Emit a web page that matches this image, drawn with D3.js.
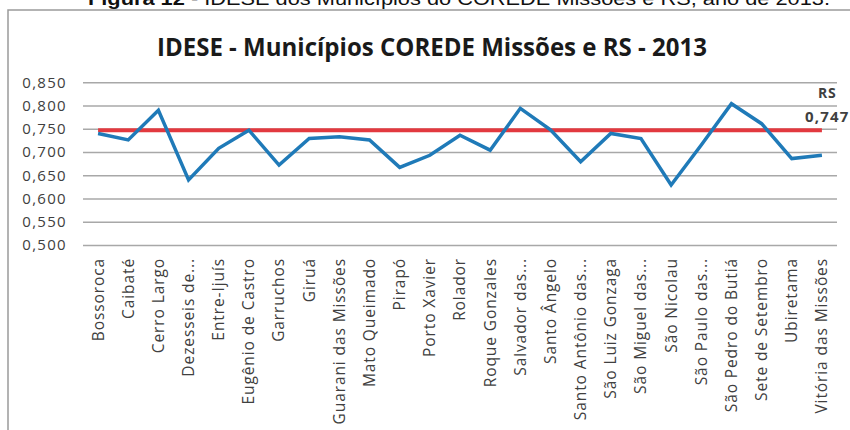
<!DOCTYPE html>
<html>
<head>
<meta charset="utf-8">
<script src="https://cdn.jsdelivr.net/npm/d3@7"></script>
<style>
  body { margin: 0; background: #fff; }
  svg { display: block; }
</style>
</head>
<body>
<svg width="850" height="430"></svg>
<script>
'use strict';

// Municipalities (x categories)
var municipios = [
  'Bossoroca', 'Caibaté', 'Cerro Largo', 'Dezesseis de...', 'Entre-Ijuís',
  'Eugênio de Castro', 'Garruchos', 'Giruá', 'Guarani das Missões', 'Mato Queimado',
  'Pirapó', 'Porto Xavier', 'Rolador', 'Roque Gonzales', 'Salvador das...',
  'Santo Ângelo', 'Santo Antônio das...', 'São Luiz Gonzaga', 'São Miguel das...', 'São Nicolau',
  'São Paulo das...', 'São Pedro do Butiá', 'Sete de Setembro', 'Ubiretama', 'Vitória das Missões'
];
// IDESE 2013 values
var idese = [
  0.740, 0.726, 0.790, 0.640, 0.708,
  0.747, 0.672, 0.729, 0.733, 0.726,
  0.667, 0.693, 0.736, 0.704, 0.794,
  0.748, 0.679, 0.740, 0.729, 0.629,
  0.715, 0.804, 0.761, 0.686, 0.693
];
var rsValue = 0.747;
var yTicks = [0.500, 0.550, 0.600, 0.650, 0.700, 0.750, 0.800, 0.850];

var svg = d3.select('svg');

// pt-BR number format (comma decimal)
var ptBR = d3.formatLocale({ decimal: ',', thousands: '.', grouping: [3], currency: ['R$', ''] });
var fmt = ptBR.format('.3f');

// plot area
var plotLeft = 83, plotRight = 837, plotTop = 82.3, plotBottom = 245;

var x = d3.scaleBand().domain(municipios).range([plotLeft, plotRight]);
var y = d3.scaleLinear().domain([0.5, 0.85]).range([plotBottom, plotTop]);
var cx = function(d) { return x(d) + x.bandwidth() / 2; };

// caption above chart (cut off at the top, like in the source scan)
var cap = svg.append('text')
  .attr('x', 88).attr('y', 4.5)
  .attr('textLength', 742).attr('lengthAdjust', 'spacingAndGlyphs')
  .style('font-family', 'Liberation Sans, Arial, sans-serif')
  .style('font-size', '18px').style('fill', '#111');
cap.append('tspan').style('font-weight', 'bold').text('Figura 12');
cap.append('tspan').text(' - IDESE dos Municípios do COREDE Missões e RS, ano de 2013.');

// chart frame
svg.append('rect')
  .attr('x', 8).attr('y', 10).attr('width', 860).attr('height', 440)
  .style('fill', 'none').style('stroke', '#9a9a9a').style('stroke-width', 1.5);

// title
svg.append('text')
  .attr('x', 157).attr('y', 56)
  .attr('textLength', 550).attr('lengthAdjust', 'spacingAndGlyphs')
  .style('font-family', 'Open Sans, sans-serif')
  .style('font-weight', 'bold').style('font-size', '25px').style('fill', '#1a1a1a')
  .text('IDESE - Municípios COREDE Missões e RS - 2013');

// gridlines + y axis
var yAxis = svg.append('g')
  .attr('transform', 'translate(' + plotLeft + ',0)')
  .call(d3.axisLeft(y).tickValues(yTicks).tickFormat(fmt).tickSize(-(plotRight - plotLeft)).tickPadding(16));
yAxis.select('.domain').remove();
yAxis.selectAll('line').style('stroke', '#a8a8a8').style('stroke-width', 1.5);
yAxis.selectAll('text')
  .style('font-family', 'Open Sans, sans-serif').style('font-size', '15px')
  .style('letter-spacing', '1.3px').style('fill', '#404040');

// x axis labels (rotated)
var xAxis = svg.append('g')
  .attr('transform', 'translate(0,' + plotBottom + ')')
  .call(d3.axisBottom(x).tickSize(0).tickPadding(0));
xAxis.select('.domain').remove();
xAxis.selectAll('text')
  .attr('transform', 'rotate(-90)')
  .attr('x', -13).attr('y', 0).attr('dy', '0.35em')
  .style('text-anchor', 'end')
  .style('font-family', 'Open Sans, sans-serif').style('font-size', '15.5px')
  .style('letter-spacing', '0.9px')
  .style('fill', '#404040');

// RS reference line
var rsLine = d3.line().x(function(d) { return cx(d); }).y(function() { return y(rsValue); });
svg.append('path')
  .datum([municipios[0], municipios[municipios.length - 1]])
  .attr('d', rsLine)
  .style('fill', 'none').style('stroke', '#e2393f').style('stroke-width', 4);

// IDESE line
var line = d3.line()
  .x(function(d, i) { return cx(municipios[i]); })
  .y(function(d) { return y(d); });
svg.append('path')
  .datum(idese)
  .attr('d', line)
  .style('fill', 'none').style('stroke', '#1f7ab8').style('stroke-width', 3.5)
  .style('stroke-linejoin', 'miter');

// RS label
svg.append('text')
  .attr('x', 818).attr('y', 98)
  .style('font-family', 'Open Sans, sans-serif').style('font-weight', 'bold')
  .style('font-size', '14px').style('letter-spacing', '0.8px').style('fill', '#404040')
  .text('RS');
svg.append('text')
  .attr('x', 805).attr('y', 122)
  .style('font-family', 'Open Sans, sans-serif').style('font-weight', 'bold')
  .style('font-size', '15px').style('letter-spacing', '1.2px').style('fill', '#404040')
  .text(fmt(rsValue));
</script>
</body>
</html>
